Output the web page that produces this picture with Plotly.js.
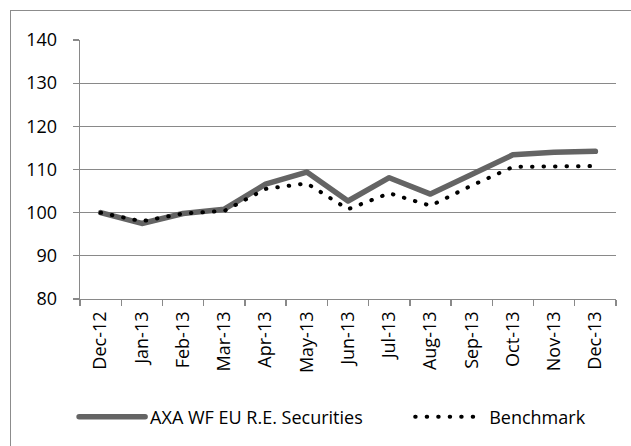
<!DOCTYPE html>
<html>
<head>
<meta charset="utf-8">
<script src="https://cdn.plot.ly/plotly-3.0.1.min.js"></script>
<style>
  body { margin: 0; background: #fff; }
  #chart { width: 631px; height: 446px; position: absolute; left: 0; top: 0; }
  #cadre { position: absolute; left: 10px; top: 10px; width: 640px; height: 460px;
           border: 1px solid #8c8c8c; pointer-events: none; }
  path.js-line { stroke-linecap: round; stroke-linejoin: round; }
</style>
</head>
<body>
<div id="chart"></div>
<div id="cadre"></div>
<script>
// Mois (axe X)
const mois = ["Dec-12", "Jan-13", "Feb-13", "Mar-13", "Apr-13", "May-13", "Jun-13",
              "Jul-13", "Aug-13", "Sep-13", "Oct-13", "Nov-13", "Dec-13"];

// Valeurs (base 100)
const fonds = [100, 97.5, 99.8, 100.8, 106.6, 109.4, 102.7, 108.1, 104.3, 108.9, 113.4, 114.0, 114.2];
const benchmark = [100, 98.0, 99.8, 100.4, 105.5, 106.8, 100.8, 104.5, 101.6, 106.3, 110.6, 110.7, 110.8];

const gris = '#898989';
const police = { family: 'Open Sans, sans-serif', size: 18, color: '#000' };

const traces = [
    {
        x: mois,
        y: fonds,
        name: 'AXA WF EU R.E. Securities',
        type: 'scatter',
        mode: 'lines',
        line: { color: '#646464', width: 5.5 },
        legend: 'legend'
    },
    {
        x: mois,
        y: benchmark,
        name: 'Benchmark',
        type: 'scatter',
        mode: 'lines',
        line: { color: '#000', width: 4, dash: '0.5px,11px' },
        legend: 'legend2'
    }
];

// deux légendes côte à côte, comme dans Excel
const legendeBase = {
    orientation: 'h',
    xanchor: 'left',
    yref: 'container',
    y: 0.065,
    yanchor: 'middle',
    font: police,
    bgcolor: 'rgba(0,0,0,0)'
};

const layout = {
    width: 631,
    height: 446,
    margin: { l: 80, r: 15, t: 40, b: 147 },
    paper_bgcolor: '#fff',
    plot_bgcolor: '#fff',
    font: police,
    showlegend: true,
    legend: Object.assign({}, legendeBase, { x: -0.011, itemwidth: 66 }),
    legend2: Object.assign({}, legendeBase, { x: 0.616, itemwidth: 69 }),
    xaxis: {
        type: 'category',
        range: [-0.5, 12.5],
        automargin: false,
        tickangle: -90,
        showline: true,
        linecolor: gris,
        linewidth: 1.3,
        ticks: 'outside',
        tickson: 'boundaries',
        ticklen: 6,
        tickcolor: gris,
        tickwidth: 1.3,
        showgrid: false,
        tickfont: police,
        ticklabelstandoff: 4,
        fixedrange: true
    },
    yaxis: {
        range: [80, 140],
        dtick: 10,
        automargin: false,
        showline: true,
        linecolor: gris,
        linewidth: 1.3,
        ticks: 'outside',
        ticklen: 6,
        tickcolor: gris,
        tickwidth: 1.3,
        gridcolor: gris,
        gridwidth: 1.3,
        zeroline: false,
        tickfont: police,
        ticklabelstandoff: 12,
        fixedrange: true
    }
};

Plotly.newPlot('chart', traces, layout, { displayModeBar: false, staticPlot: true });
</script>
</body>
</html>
